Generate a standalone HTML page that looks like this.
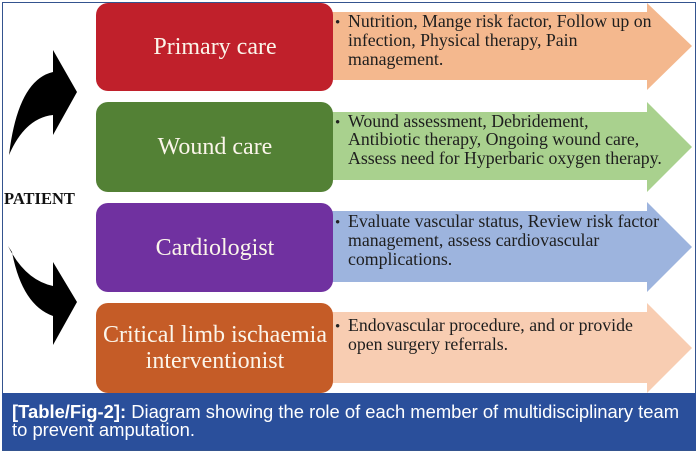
<!DOCTYPE html>
<html>
<head>
<meta charset="utf-8">
<style>
html,body{margin:0;padding:0;background:#fff;}
body{width:698px;height:454px;overflow:hidden;}
svg{display:block;}
</style>
</head>
<body>
<svg width="698" height="454" viewBox="0 0 698 454" xmlns="http://www.w3.org/2000/svg">
  <rect x="0" y="0" width="698" height="454" fill="#ffffff"/>
  <!-- frame -->
  <rect x="2.5" y="2.5" width="693" height="448" fill="none" stroke="#34548f" stroke-width="1"/>

  <!-- right arrows -->
  <polygon points="325,12 647,12 647,3 692,46 647,90 647,80 325,80" fill="#f4b88e"/>
  <polygon points="325,112 647,112 647,102 692,147 647,192 647,180 325,180" fill="#a9d18e"/>
  <polygon points="325,211 647,211 647,202 692,247 647,292 647,282 325,282" fill="#9db4de"/>
  <polygon points="325,312 647,312 647,303 692,348 647,393 647,383 325,383" fill="#f8cdb2"/>

  <!-- boxes -->
  <rect x="96" y="3" width="237" height="88" rx="12" ry="12" fill="#c0202b"/>
  <rect x="96" y="102" width="237" height="90" rx="12" ry="12" fill="#538135"/>
  <rect x="96" y="203" width="237" height="89" rx="12" ry="12" fill="#7031a0"/>
  <rect x="96" y="303" width="237" height="90" rx="12" ry="12" fill="#c55c27"/>

  <!-- box labels -->
  <g font-family="'Liberation Serif', serif" font-size="24" fill="#fbf5ea" text-anchor="middle">
    <text x="215" y="54">Primary care</text>
    <text x="215" y="154">Wound care</text>
    <text x="215" y="255">Cardiologist</text>
    <text x="215" y="342">Critical limb ischaemia</text>
    <text x="215" y="368">interventionist</text>
  </g>

  <!-- bullets -->
  <g font-family="'Liberation Serif', serif" font-size="15" fill="#222">
    <text x="335" y="27">•</text>
    <text x="335" y="127">•</text>
    <text x="335" y="227">•</text>
    <text x="335" y="331">•</text>
  </g>
  <g font-family="'Liberation Serif', serif" font-size="17.8" fill="#1e1e1e">
    <text x="348" y="27">Nutrition, Mange risk factor, Follow up on</text>
    <text x="348" y="46">infection, Physical therapy, Pain</text>
    <text x="348" y="65">management.</text>

    <text x="348" y="127">Wound assessment, Debridement,</text>
    <text x="348" y="145">Antibiotic therapy, Ongoing wound care,</text>
    <text x="348" y="164">Assess need for Hyperbaric oxygen therapy.</text>

    <text x="348" y="227">Evaluate vascular status, Review risk factor</text>
    <text x="348" y="246">management, assess cardiovascular</text>
    <text x="348" y="265">complications.</text>

    <text x="348" y="331">Endovascular procedure, and or provide</text>
    <text x="348" y="350">open surgery referrals.</text>
  </g>

  <!-- curved black arrows -->
  <path d="M53,72 L53,50 L77,92 L53,135 L53,115 Q25,118 9,155 Q18,80 53,72 Z" fill="#000"/>
  <path d="M8,246 Q25,280 53,286 L53,262 L77,302 L53,345 L53,316 Q22,305 12,252 Z" fill="#000"/>

  <!-- PATIENT -->
  <text x="4" y="204" font-family="'Liberation Serif', serif" font-weight="bold" font-size="16.5" fill="#111">PATIENT</text>

  <!-- caption -->
  <rect x="2" y="393" width="694" height="57" fill="#2a4f9b"/>
  <g font-family="'Liberation Sans', Arial, sans-serif" font-size="18.4" fill="#ffffff">
    <text x="12" y="418"><tspan font-weight="bold">[Table/Fig-2]:</tspan> Diagram showing the role of each member of multidisciplinary team</text>
    <text x="12" y="436">to prevent amputation.</text>
  </g>
</svg>
</body>
</html>
